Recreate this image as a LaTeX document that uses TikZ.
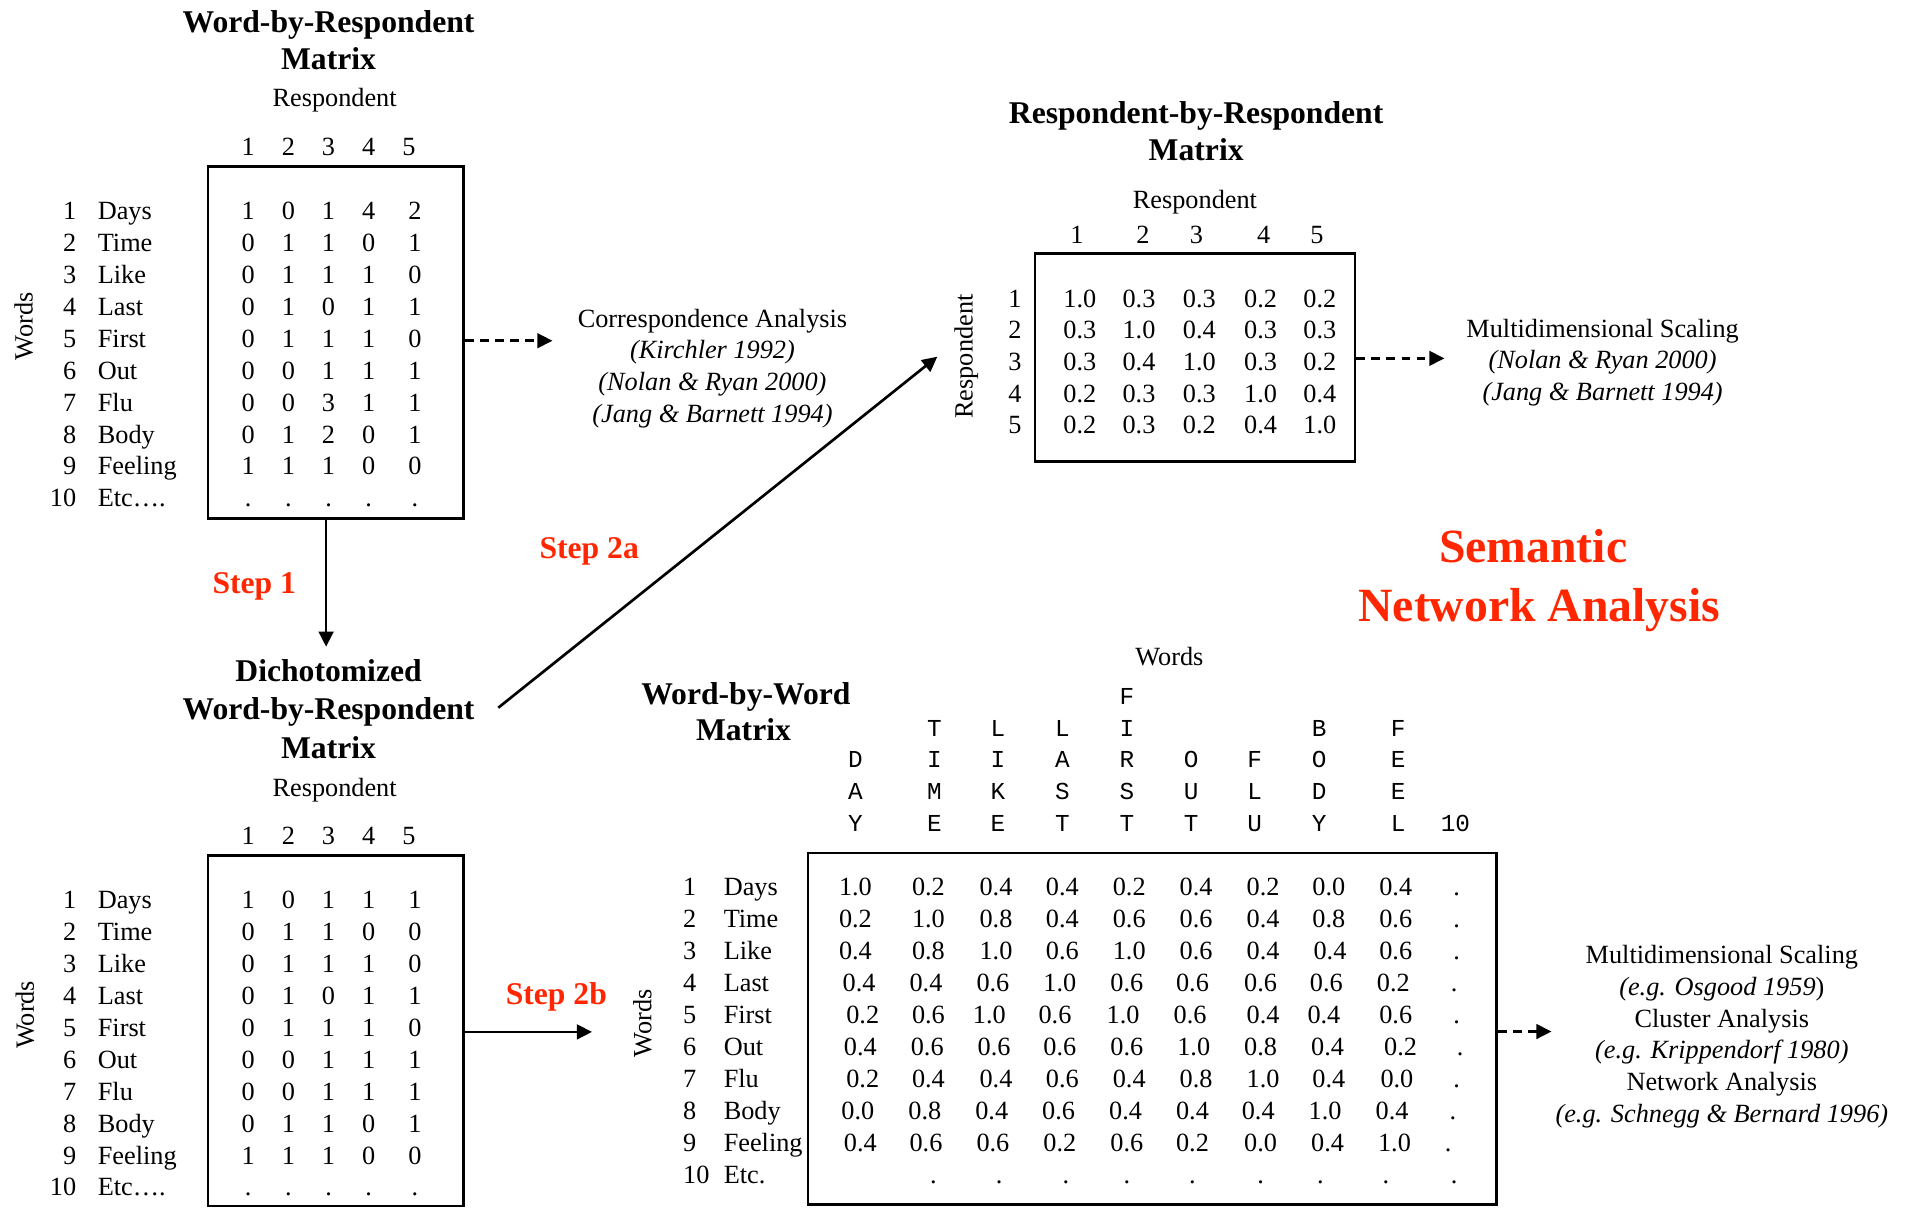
\documentclass[tikz,border=0pt]{standalone}
\usepackage{fontspec}
\setmainfont{Liberation Serif}
\setmonofont{Liberation Mono}
\usetikzlibrary{arrows.meta}
\definecolor{steptext}{RGB}{255,38,0}

\tikzset{
  body/.style={font=\fontsize{10.8}{13}\selectfont, inner sep=0pt, anchor=base, yshift=-3.6pt},
  bodyi/.style={body, font=\fontsize{10.8}{13}\selectfont\itshape},
  bodyl/.style={body, anchor=base west},
  bodyr/.style={body, anchor=base east},
  ttl/.style={font=\fontsize{13}{15}\selectfont\bfseries, inner sep=0pt, anchor=base, yshift=-4.3pt},
  steplabel/.style={ttl, text=steptext},
  bigred/.style={font=\fontsize{19.6}{24}\selectfont\bfseries, text=steptext, inner sep=0pt, anchor=base},
  mono/.style={font=\fontsize{10}{12}\ttfamily, inner sep=0pt, anchor=base, yshift=-3pt},
  sidelabel/.style={font=\fontsize{10.8}{13}\selectfont, inner sep=0pt, rotate=90, anchor=center},
  matbox/.style={draw, line width=1.1pt, inner sep=0pt},
  flow/.style={line width=1.1pt, -{Triangle[length=6.2pt,width=6pt]}},
  hint/.style={flow, dash pattern=on 3.6pt off 2.6pt},
}

\begin{document}
\begin{tikzpicture}[x=0.5pt, y=-0.5pt]
\useasboundingbox (0,0) rectangle (1568,992);
\clip (0,0) rectangle (1568,992);

% ---------- Word-by-Respondent matrix ----------
\node[ttl] (wr-t1) at (270,17.8) {Word-by-Respondent};
\node[ttl] (wr-t2) at (270,48.4) {Matrix};
\node[body] (wr-resp) at (275,80) {Respondent};
\foreach \c/\x in {1/204,2/237,3/270,4/303,5/336}
  \node[body] (wr-h\c) at (\x,120.5) {\c};
\node[matbox, minimum width=105pt, minimum height=144.6pt] (wr) at (276,281.4) {};
\node[sidelabel] (wr-side) at (19.5,268) {Words};
\foreach \w [count=\i] in {Days,Time,Like,Last,First,Out,Flu,Body,Feeling,Etc….}{
  \node[bodyr] (wr-n\i) at (63,{147.3+26.2*\i}) {\i};
  \node[bodyl] (wr-w\i) at (80,{147.3+26.2*\i}) {\w};
}
\foreach \row [count=\i] in {{1,0,1,4,2},{0,1,1,0,1},{0,1,1,1,0},{0,1,0,1,1},{0,1,1,1,0},
                             {0,0,1,1,1},{0,0,3,1,1},{0,1,2,0,1},{1,1,1,0,0},{.,.,.,.,.}}{
  \foreach \v [count=\j] in \row {
    \pgfmathsetmacro\xx{{204,237,270,303,341}[\j-1]}
    \node[body] (wr-v\i-\j) at (\xx,{147.3+26.2*\i}) {\v};
  }
}

% ---------- Dichotomized Word-by-Respondent matrix ----------
\node[ttl] (dwr-t1) at (270,551.6) {Dichotomized};
\node[ttl] (dwr-t2) at (270,583) {Word-by-Respondent};
\node[ttl] (dwr-t3) at (270,615) {Matrix};
\node[body] (dwr-resp) at (275,647) {Respondent};
\foreach \c/\x in {1/204,2/237,3/270,4/303,5/336}
  \node[body] (dwr-h\c) at (\x,687) {\c};
\node[matbox, minimum width=105pt, minimum height=144pt] (dwr) at (276,847) {};
\node[sidelabel] (dwr-side) at (20.5,834) {Words};
\foreach \w [count=\i] in {Days,Time,Like,Last,First,Out,Flu,Body,Feeling,Etc….}{
  \node[bodyr] (dwr-n\i) at (63,{713.15+26.25*\i}) {\i};
  \node[bodyl] (dwr-w\i) at (80,{713.15+26.25*\i}) {\w};
}
\foreach \row [count=\i] in {{1,0,1,1,1},{0,1,1,0,0},{0,1,1,1,0},{0,1,0,1,1},{0,1,1,1,0},
                             {0,0,1,1,1},{0,0,1,1,1},{0,1,1,0,1},{1,1,1,0,0},{.,.,.,.,.}}{
  \foreach \v [count=\j] in \row {
    \pgfmathsetmacro\xx{{204,237,270,303,341}[\j-1]}
    \node[body] (dwr-v\i-\j) at (\xx,{713.15+26.25*\i}) {\v};
  }
}

% ---------- Correspondence analysis ----------
\node[body]  (ca1) at (585.5,261.6) {Correspondence Analysis};
\node[bodyi] (ca2) at (585.5,287.6) {(Kirchler 1992)};
\node[bodyi] (ca3) at (585.5,313.7) {(Nolan \& Ryan 2000)};
\node[bodyi] (ca4) at (585.5,339.7) {(Jang \& Barnett 1994)};

% ---------- Respondent-by-Respondent matrix ----------
\node[ttl] (rr-t1) at (983,93) {Respondent-by-Respondent};
\node[ttl] (rr-t2) at (983,123.5) {Matrix};
\node[body] (rr-resp) at (982,164) {Respondent};
\foreach \c/\x in {1/885,2/939.3,3/983.2,4/1038.4,5/1082.3}
  \node[body] (rr-h\c) at (\x,192.5) {\c};
\node[matbox, minimum width=131.5pt, minimum height=85.6pt] (rr) at (982,293.8) {};
\node[sidelabel] (rr-side) at (794,293) {Respondent};
\foreach \row [count=\i] in {{1.0,0.3,0.3,0.2,0.2},{0.3,1.0,0.4,0.3,0.3},{0.3,0.4,1.0,0.3,0.2},
                             {0.2,0.3,0.3,1.0,0.4},{0.2,0.3,0.2,0.4,1.0}}{
  \node[body] (rr-n\i) at (834,{219.2+26.03*\i}) {\i};
  \foreach \v [count=\j] in \row {
    \pgfmathsetmacro\xx{{887.4,936,985.6,1036,1084.6}[\j-1]}
    \node[body] (rr-v\i-\j) at (\xx,{219.2+26.03*\i}) {\v};
  }
}

% ---------- Multidimensional scaling (respondents) ----------
\node[body]  (mds1a) at (1317,270) {Multidimensional Scaling};
\node[bodyi] (mds1b) at (1317,296) {(Nolan \& Ryan 2000)};
\node[bodyi] (mds1c) at (1317,322) {(Jang \& Barnett 1994)};

% ---------- Heading ----------
\node[bigred] (sna1) at (1260,462.4) {Semantic};
\node[bigred] (sna2) at (1265,510.9) {Network Analysis};

% ---------- Word-by-Word matrix ----------
\node[ttl] (ww-t1) at (613,570) {Word-by-Word};
\node[ttl] (ww-t2) at (611,600) {Matrix};
\node[body] (ww-top) at (961,539.6) {Words};
\foreach \x/\s/\lst in {703/3/{D,A,Y},768/2/{T,I,M,E},820/2/{L,I,K,E},873/2/{L,A,S,T},
                        926/1/{F,I,R,S,T},979/3/{O,U,T},1031/3/{F,L,U},1084/2/{B,O,D,Y},
                        1149/2/{F,E,E,L},1196/5/{10}}{
  \foreach \ch [count=\k from \s] in \lst
    \node[mono] (hd-\x-\k) at (\x,{547+26*\k}) {\ch};
}
\node[matbox, minimum width=283pt, minimum height=144.5pt] (ww) at (947,845.5) {};
\node[sidelabel] (ww-side) at (528,840.7) {Words};
\foreach \w [count=\i] in {Days,Time,Like,Last,First,Out,Flu,Body,Feeling,Etc.}{
  \node[bodyl] (ww-n\i) at (561,{702.7+26.3*\i}) {\i};
  \node[bodyl] (ww-w\i) at (594.4,{702.7+26.3*\i}) {\w};
}
\foreach \lst [count=\i] in {
  {703/1.0,763/0.2,818.5/0.4,873/0.4,928/0.2,983/0.4,1038/0.2,1092/0.0,1147/0.4,1197/.},
  {703/0.2,763/1.0,818.5/0.8,873/0.4,928/0.6,983/0.6,1038/0.4,1092/0.8,1147/0.6,1197/.},
  {703/0.4,763/0.8,818.5/1.0,873/0.6,928/1.0,983/0.6,1038/0.4,1093/0.4,1147/0.6,1197/.},
  {706/0.4,761/0.4,816/0.6,871/1.0,926/0.6,980/0.6,1036/0.6,1090/0.6,1145/0.2,1195/.},
  {709/0.2,763/0.6,813/1.0,867/0.6,923/1.0,978/0.6,1038/0.4,1088/0.4,1147/0.6,1197/.},
  {707/0.4,762/0.6,817/0.6,871/0.6,926/0.6,981/1.0,1036/0.8,1091/0.4,1151/0.2,1200/.},
  {709/0.2,763/0.4,818.5/0.4,873/0.6,928/0.4,983/0.8,1038/1.0,1092/0.4,1148/0.0,1197/.},
  {705/0.0,760/0.8,815/0.4,870/0.6,925/0.4,980/0.4,1034/0.4,1089/1.0,1144/0.4,1194/.},
  {707/0.4,761/0.6,816/0.6,871/0.2,926/0.6,980/0.2,1036/0.0,1091/0.4,1146/1.0,1190/.},
  {767/.,821/.,876/.,926/.,980/.,1036/.,1085/.,1139/.,1195/.}}{
  \foreach \x/\v [count=\j] in \lst
    \node[body] (ww-v\i-\j) at (\x,{702.7+26.3*\i}) {\v};
}

% ---------- Word-level analyses ----------
\node[body]  (wa1) at (1415,785) {Multidimensional Scaling};
\node[bodyi] (wa2) at (1415,811) {(e.g. Osgood 1959\upshape)};
\node[body]  (wa3) at (1415,837) {Cluster Analysis};
\node[bodyi] (wa4) at (1415,863) {(e.g. Krippendorf 1980)};
\node[body]  (wa5) at (1415,889) {Network Analysis};
\node[bodyi] (wa6) at (1415,915) {(e.g. Schnegg \& Bernard 1996)};

% ---------- Step labels ----------
\node[steplabel] (st1)  at (209,479)     {Step 1};
\node[steplabel] (st2a) at (484.2,450.3) {Step 2a};
\node[steplabel] (st2b) at (457.2,816.5) {Step 2b};

% ---------- Connectors ----------
\coordinate (s1-end) at (268,531.5);
\draw[flow] (wr.south -| s1-end) -- (s1-end);
\coordinate (ca-in) at (454,280);
\draw[hint] (wr.east |- ca-in) -- (ca-in);
\coordinate (s2a-from) at (409.5,581.6);
\coordinate (s2a-to) at (770.3,293.1);
\draw[flow] (s2a-from) -- (s2a-to);
\coordinate (s2b-to) at (486.5,848);
\draw[flow] (dwr.east |- s2b-to) -- (s2b-to);
\coordinate (mds1-in) at (1187,294.5);
\draw[hint] (rr.east |- mds1-in) -- (mds1-in);
\coordinate (mds2-in) at (1275,847.7);
\draw[hint] (ww.east |- mds2-in) -- (mds2-in);
\end{tikzpicture}
\end{document}
